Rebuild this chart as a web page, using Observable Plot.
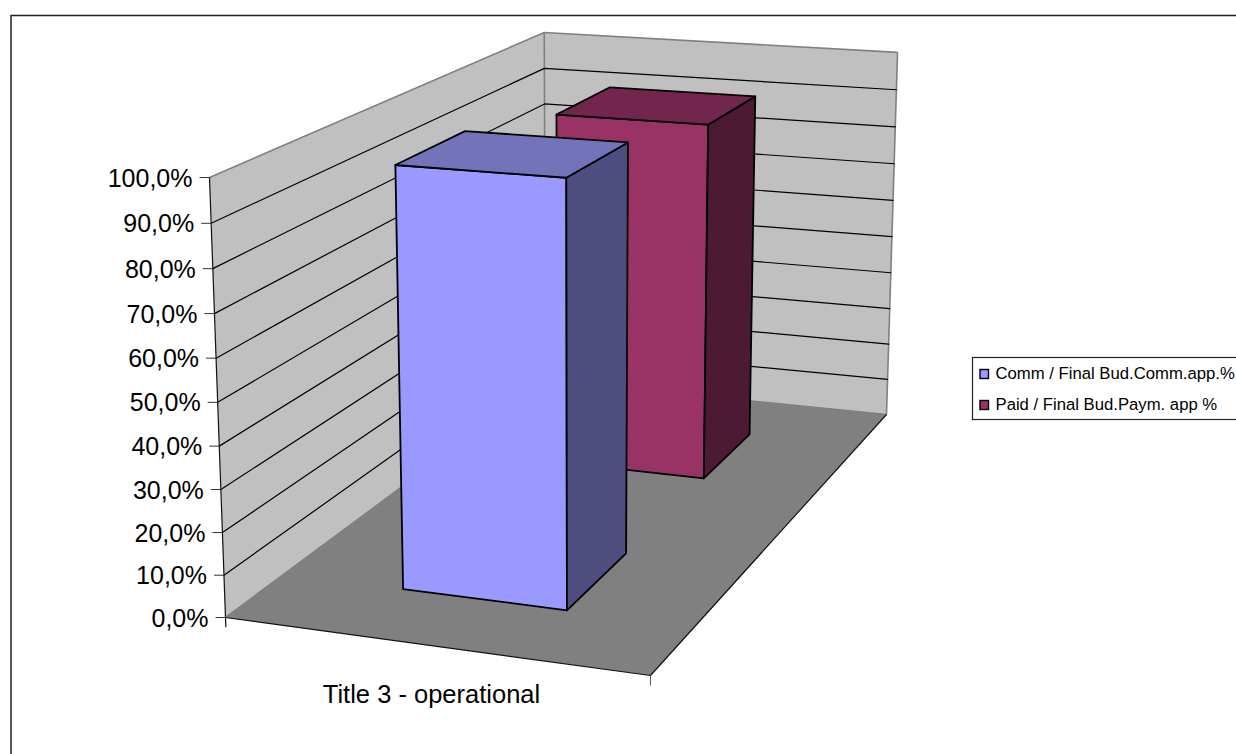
<!DOCTYPE html>
<html>
<head>
<meta charset="utf-8">
<script src="https://cdn.jsdelivr.net/npm/d3@7"></script>
<script src="https://cdn.jsdelivr.net/npm/@observablehq/plot@0.6"></script>
<style>
  html, body { margin: 0; padding: 0; background: #fff; }
  svg { display: block; }
</style>
</head>
<body>
<div id="chart"></div>
<script>
// Budget execution rates for one budget title, as a 3-D column chart.
const categories = ["Title 3 - operational"];
const seriesNames = ["Comm / Final Bud.Comm.app.%", "Paid / Final Bud.Paym. app %"];
const seriesValues = [98.8, 91.7];
const tickValues = [0, 10, 20, 30, 40, 50, 60, 70, 80, 90, 100];
const tickLabels = ["0,0%", "10,0%", "20,0%", "30,0%", "40,0%", "50,0%", "60,0%", "70,0%", "80,0%", "90,0%", "100,0%"];
const frontColors = ["#9999FF", "#993366"];
const sideColors = ["#4D4D80", "#4D1A33"];
const topColors = ["#7373BA", "#73264D"];

const WIDTH = 1236, HEIGHT = 754;
const FONT = "Liberation Sans, Arial, sans-serif";

// Perspective camera: u runs along the category axis, v into the depth,
// z up the value axis, all from 0 to 1.
function project(u, v, z) {
  const w = 1 - 0.05356 * u + 0.2834 * v - 0.043 * z;
  return {
    x: (225 + 390.19 * u + 474.45 * v - 24.99 * z) / w,
    y: (617 + 21.85 * u - 129.69 * v - 447.6 * z) / w
  };
}

// A filled quadrilateral as a closed ring of projected points.
function face(id, fill, stroke, corners) {
  const ring = corners.concat([corners[0]]);
  return ring.map(([u, v, z]) => ({id, fill, stroke, ...project(u, v, z)}));
}

const polygon = (rows, strokeWidth) =>
  Plot.line(rows, {x: "x", y: "y", z: "id", fill: d => d.fill, stroke: d => d.stroke,
    strokeWidth, strokeLinejoin: "round"});

// Chart walls and floor.
const WALL = "#C0C0C0", FLOOR = "#808080", EDGE = "#808080";
const shell = [
  ...face("left", WALL, "none", [[0,0,0],[0,1,0],[0,1,1],[0,0,1]]),
  ...face("back", WALL, "none", [[0,1,0],[1,1,0],[1,1,1],[0,1,1]]),
  ...face("floor", FLOOR, "none", [[0,0,0],[1,0,0],[1,1,0],[0,1,0]])
];

// Gridlines run along the left wall and across the back wall.
const gridRows = tickValues.slice(1, -1).flatMap(t => {
  const z = t / 100;
  return [
    {id: `l${t}`, ...project(0, 0, z)}, {id: `l${t}`, ...project(0, 1, z)}, {id: `l${t}`, ...project(1, 1, z)}
  ];
});

// Wall outlines in grey, front axis edges in black.
const seg = (a, b) => { const p = project(...a), q = project(...b); return {x1: p.x, y1: p.y, x2: q.x, y2: q.y}; };
const greyEdges = [
  seg([0,0,1],[0,1,1]), seg([0,1,1],[1,1,1]), seg([1,1,1],[1,1,0]),
  seg([0,1,1],[0,1,0]), seg([0,0,0],[0,1,0]), seg([0,1,0],[1,1,0])
];
const blackEdges = [
  seg([0,0,1],[0,0,-0.023]), seg([0,0,0],[1,0,0]), seg([1,0,0],[1,1,0])
];
const catTick = [seg([1,0,0],[1,0,-0.023])];

// Value-axis ticks stick out to the left of the front wall edge.
const tickRows = tickValues.map((t, i) => {
  const p = project(0, 0, t / 100);
  return {x1: p.x - 10, y1: p.y, x2: p.x, y2: p.y, tx: p.x - 17, ty: p.y + 1, label: tickLabels[i]};
});

// One box per series: columns occupy the middle of the category and
// stand in their own slot along the depth axis. Far box is drawn first.
const U0 = 0.3, U1 = 0.7;
const slots = [[0.15, 0.35], [0.65, 0.85]];
const boxes = seriesValues.map((value, i) => {
  const z = value / 100, [v0, v1] = slots[i];
  return [
    ...face(`front${i}`, frontColors[i], "#000", [[U0,v0,0],[U1,v0,0],[U1,v0,z],[U0,v0,z]]),
    ...face(`side${i}`, sideColors[i], "#000", [[U1,v0,0],[U1,v1,0],[U1,v1,z],[U1,v0,z]]),
    ...face(`top${i}`, topColors[i], "#000", [[U0,v0,z],[U1,v0,z],[U1,v1,z],[U0,v1,z]])
  ];
}).reverse().flat();

const catPos = {x: 431, y: 694};

// Legend box sits inside the chart area, at the right.
const legendBox = {x1: 972.5, x2: 1240, y1: 357.5, y2: 419.5};
const legendRows = seriesNames.map((name, i) => ({
  name, color: frontColors[i], x1: 980, x2: 988.5, y1: 369.5 + i * 31, y2: 378.5 + i * 31, tx: 995, ty: 373.5 + i * 30.5
}));

const chart = Plot.plot({
  width: WIDTH,
  height: HEIGHT,
  margin: 0,
  x: {domain: [0, WIDTH], range: [0, WIDTH], axis: null},
  y: {domain: [0, HEIGHT], range: [0, HEIGHT], axis: null},
  marks: [
    // chart area outline; it runs off the right and bottom of the page
    Plot.rect([{x1: 11, x2: 1260, y1: 15.5, y2: 770}], {x1: "x1", x2: "x2", y1: "y1", y2: "y2", fill: "#fff", stroke: "#222", strokeWidth: 1.5}),
    polygon(shell, 0),
    Plot.link(greyEdges, {x1: "x1", y1: "y1", x2: "x2", y2: "y2", stroke: EDGE, strokeWidth: 1.6}),
    Plot.line(gridRows, {x: "x", y: "y", z: "id", stroke: "#000", strokeWidth: 1.2}),
    Plot.link(blackEdges, {x1: "x1", y1: "y1", x2: "x2", y2: "y2", stroke: "#111", strokeWidth: 1.2}),
    Plot.link(catTick, {x1: "x1", y1: "y1", x2: "x2", y2: "y2", stroke: "#555", strokeWidth: 1}),
    Plot.link(tickRows, {x1: "x1", y1: "y1", x2: "x2", y2: "y2", stroke: "#333", strokeWidth: 1}),
    Plot.text(tickRows, {x: "tx", y: "ty", text: "label", textAnchor: "end", fontSize: 25, fontFamily: FONT, fill: "#000"}),
    polygon(boxes, 1.8),
    Plot.text(categories, {x: () => catPos.x, y: () => catPos.y, text: d => d, fontSize: 25.5, fontFamily: FONT, fill: "#000"}),
    Plot.rect([legendBox], {x1: "x1", x2: "x2", y1: "y1", y2: "y2", fill: "#fff", stroke: "#222", strokeWidth: 1.2}),
    Plot.rect(legendRows, {x1: "x1", x2: "x2", y1: "y1", y2: "y2", fill: "color", stroke: "#000", strokeWidth: 1.4}),
    Plot.text(legendRows, {x: "tx", y: "ty", text: "name", textAnchor: "start", fontSize: 16.7, fontFamily: FONT, fill: "#000"})
  ]
});
document.getElementById("chart").appendChild(chart);
</script>
</body>
</html>
